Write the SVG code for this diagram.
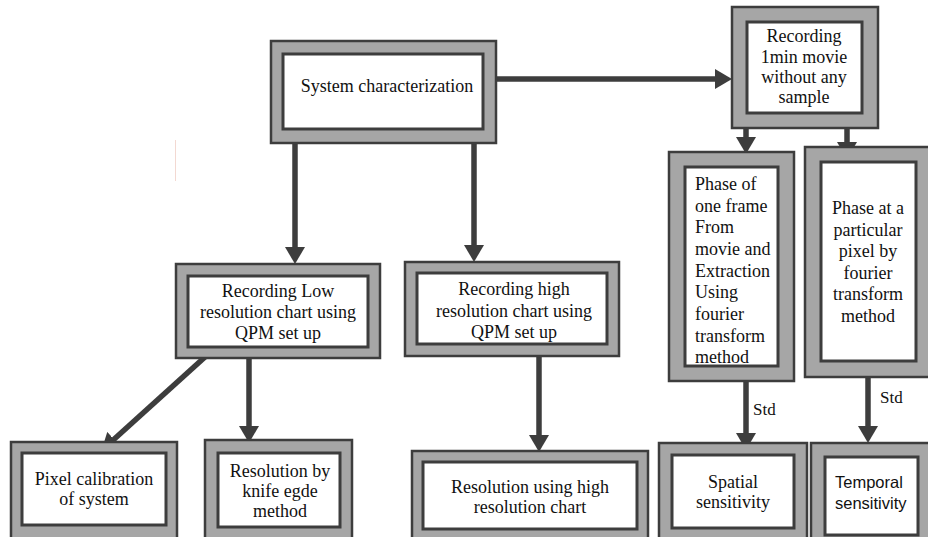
<svg xmlns="http://www.w3.org/2000/svg" width="928" height="537" viewBox="0 0 928 537">
<defs>
<style>
.outer{fill:#a6a6a6;stroke:#3d3d3d;stroke-width:2.5}
.inner{fill:#ffffff;stroke:#3d3d3d;stroke-width:3}
.t{font-family:"Liberation Serif","Times New Roman",serif;font-size:18px;fill:#111}
.c{text-anchor:middle}
.s{font-family:"Liberation Sans",Arial,sans-serif;font-size:16.5px;fill:#111}
.conn{stroke:#3d3d3d;stroke-width:5.5;fill:none;marker-end:url(#ah)}
</style>
<marker id="ah" markerUnits="userSpaceOnUse" markerWidth="17" markerHeight="20" refX="4" refY="10" orient="auto">
<path d="M0,0 L17,10 L0,20 z" fill="#3d3d3d"/>
</marker>
</defs>
<rect width="928" height="537" fill="#ffffff"/>
<line x1="175.5" y1="140" x2="175.5" y2="181" stroke="#f3d9d2" stroke-width="1"/>

<g id="connectors">
<line class="conn" x1="496" y1="79" x2="719" y2="79"/>
<line class="conn" x1="295" y1="143" x2="295" y2="251"/>
<line class="conn" x1="474" y1="143" x2="474" y2="249"/>
<line class="conn" x1="746" y1="117" x2="746" y2="141"/>
<line class="conn" x1="847" y1="117" x2="847" y2="146"/>
<line class="conn" x1="205" y1="357" x2="111" y2="442"/>
<line class="conn" x1="249" y1="357" x2="249" y2="430"/>
<line class="conn" x1="539" y1="355" x2="539" y2="439"/>
<line class="conn" x1="746" y1="378" x2="746" y2="437"/>
<line class="conn" x1="868" y1="374" x2="868" y2="430"/>
<text class="t" x="753" y="415" style="font-size:17px">Std</text>
<text class="t" x="880" y="403" style="font-size:17px">Std</text>
</g>

<g id="system">
<rect class="outer" x="271" y="41" width="225" height="102"/>
<rect class="inner" x="283" y="54" width="200" height="75"/>
<text class="t c" x="387" y="92">System characterization</text>
</g>

<g id="recording-movie">
<rect class="outer" x="732" y="7" width="146" height="121"/>
<rect class="inner" x="747" y="22" width="115" height="91"/>
<text class="t c" x="804" y="42">Recording</text>
<text class="t c" x="804" y="63">1min movie</text>
<text class="t c" x="804" y="83">without any</text>
<text class="t c" x="804" y="103">sample</text>
</g>

<g id="phase-frame">
<rect class="outer" x="669" y="152" width="125" height="229"/>
<rect class="inner" x="685" y="167" width="93" height="199"/>
<text class="t" x="695" y="190">Phase of</text>
<text class="t" x="695" y="212">one frame</text>
<text class="t" x="695" y="233">From</text>
<text class="t" x="695" y="255">movie and</text>
<text class="t" x="695" y="277">Extraction</text>
<text class="t" x="695" y="298">Using</text>
<text class="t" x="695" y="320">fourier</text>
<text class="t" x="695" y="342">transform</text>
<text class="t" x="695" y="363">method</text>
</g>

<g id="phase-pixel">
<rect class="outer" x="805" y="147" width="130" height="230"/>
<rect class="inner" x="821" y="162" width="95" height="199"/>
<text class="t c" x="868" y="214">Phase at a</text>
<text class="t c" x="868" y="236">particular</text>
<text class="t c" x="868" y="257">pixel by</text>
<text class="t c" x="868" y="279">fourier</text>
<text class="t c" x="868" y="300">transform</text>
<text class="t c" x="868" y="322">method</text>
</g>

<g id="low-res">
<rect class="outer" x="176" y="264" width="204" height="94"/>
<rect class="inner" x="188" y="276" width="180" height="71"/>
<text class="t c" x="278" y="297">Recording Low</text>
<text class="t c" x="278" y="318">resolution chart using</text>
<text class="t c" x="278" y="339">QPM set up</text>
</g>

<g id="high-res">
<rect class="outer" x="405" y="262" width="214" height="94"/>
<rect class="inner" x="417" y="273" width="190" height="71"/>
<text class="t c" x="514" y="295">Recording high</text>
<text class="t c" x="514" y="317">resolution chart using</text>
<text class="t c" x="514" y="338">QPM set up</text>
</g>

<g id="pixel-calibration">
<rect class="outer" x="11" y="442" width="166" height="100"/>
<rect class="inner" x="22" y="453" width="144" height="72"/>
<text class="t c" x="94" y="485">Pixel calibration</text>
<text class="t c" x="94" y="505">of system</text>
</g>

<g id="knife-edge">
<rect class="outer" x="205" y="440" width="147" height="102"/>
<rect class="inner" x="218" y="453" width="122" height="74"/>
<text class="t c" x="280" y="477">Resolution by</text>
<text class="t c" x="280" y="497">knife egde</text>
<text class="t c" x="280" y="517">method</text>
</g>

<g id="res-high-chart">
<rect class="outer" x="412" y="451" width="236" height="91"/>
<rect class="inner" x="423" y="462" width="214" height="67"/>
<text class="t c" x="530" y="493">Resolution using high</text>
<text class="t c" x="530" y="513">resolution chart</text>
</g>

<g id="spatial">
<rect class="outer" x="659" y="443" width="148" height="99"/>
<rect class="inner" x="672" y="455" width="122" height="73"/>
<text class="t c" x="733" y="488">Spatial</text>
<text class="t c" x="733" y="508">sensitivity</text>
</g>

<g id="temporal">
<rect class="outer" x="811" y="443" width="124" height="99"/>
<rect class="inner" x="825" y="457" width="93" height="78"/>
<text class="s" x="835" y="488">Temporal</text>
<text class="s" x="835" y="509">sensitivity</text>
</g>
</svg>
